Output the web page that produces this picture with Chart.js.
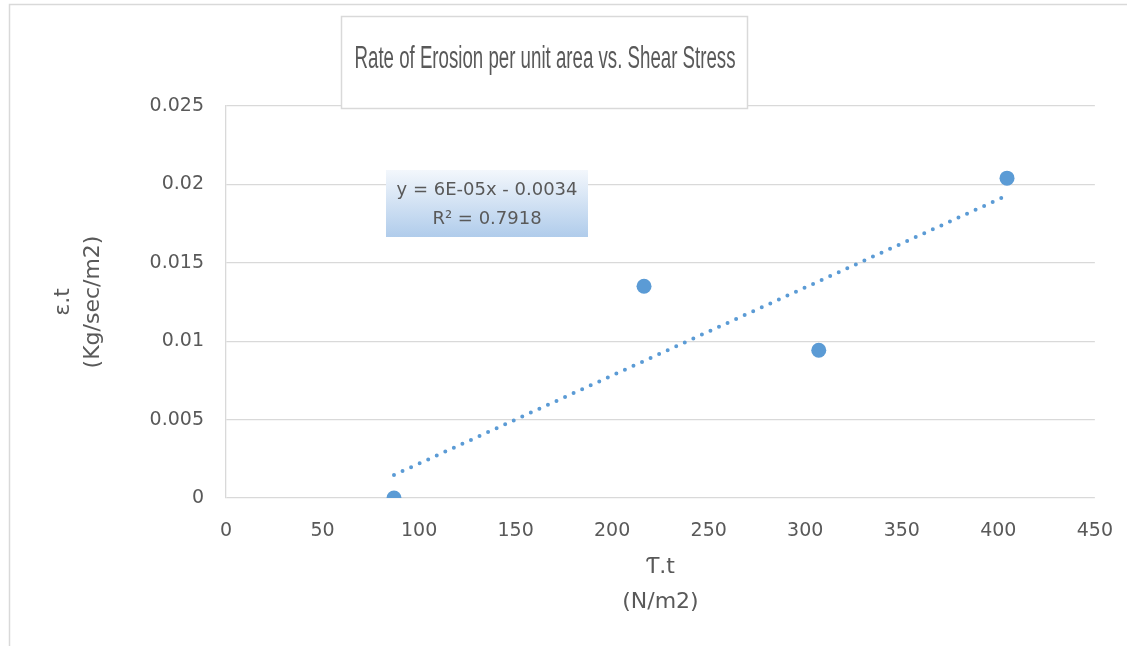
<!DOCTYPE html>
<html>
<head>
<meta charset="utf-8">
<title>Erosion rate</title>
<script src="https://cdn.jsdelivr.net/npm/chart.js"></script>
<style>
    body { margin: 0; background: #fff; }
    #wrap { width: 1127px; height: 646px; position: relative; }
</style>
</head>
<body>
<div id="wrap"><canvas id="chart" width="1127" height="646"></canvas></div>

<script>
// measured samples: shear stress (N/m2) vs erosion rate (Kg/sec/m2)
const shearStress = [87, 216.5, 307, 404.5];
const erosionRate = [0, 0.0135, 0.009423, 0.0204];

const xTicks = [0, 50, 100, 150, 200, 250, 300, 350, 400, 450];
const yTicks = [0, 0.005, 0.01, 0.015, 0.02, 0.025];

const chartTitle = 'Rate of Erosion per unit area vs. Shear Stress';
const xTitle = ['\u01AC.t', '(N/m2)'];
const yTitle = ['\u03B5.t', '(Kg/sec/m2)'];

const blue = '#5b9bd5';
const textGrey = '#595959';
const lineGrey = '#d9d9d9';
const font = '"DejaVu Sans", sans-serif';

// least squares fit, same as the spreadsheet trendline
function linearFit(xs, ys) {
    const n = xs.length;
    const mx = xs.reduce((a, b) => a + b, 0) / n;
    const my = ys.reduce((a, b) => a + b, 0) / n;
    let sxx = 0, sxy = 0, syy = 0;
    for (let i = 0; i < n; i++) {
        sxx += (xs[i] - mx) ** 2;
        sxy += (xs[i] - mx) * (ys[i] - my);
        syy += (ys[i] - my) ** 2;
    }
    const slope = sxy / sxx;
    return { slope, intercept: my - slope * mx, r2: (sxy * sxy) / (sxx * syy) };
}

const fit = linearFit(shearStress, erosionRate);
const xMin = Math.min(...shearStress), xMax = Math.max(...shearStress);
const trendPoints = [
    { x: xMin, y: fit.slope * xMin + fit.intercept },
    { x: xMax, y: fit.slope * xMax + fit.intercept }
];

function excelSci(v) {
    // 5.6e-5 -> 6E-05
    const [m, e] = v.toExponential(0).split('e');
    const exp = parseInt(e, 10);
    return m + 'E' + (exp < 0 ? '-' : '+') + String(Math.abs(exp)).padStart(2, '0');
}
const eqLine = 'y = ' + excelSci(fit.slope) + 'x ' + (fit.intercept < 0 ? '- ' : '+ ') + Math.abs(fit.intercept).toFixed(4);
const r2Line = 'R\u00B2 = ' + fit.r2.toFixed(4);

// frame, title box and equation label
const decorations = {
    id: 'decorations',
    afterDraw(chart) {
        const ctx = chart.ctx;
        ctx.save();
        ctx.strokeStyle = lineGrey;
        ctx.lineWidth = 1.5;
        ctx.beginPath();
        ctx.moveTo(1127, 4.5);
        ctx.lineTo(9.5, 4.5);
        ctx.lineTo(9.5, 646);
        ctx.stroke();

        // title box
        ctx.fillStyle = '#fff';
        ctx.fillRect(341, 16, 407, 93);
        ctx.strokeRect(341.5, 16.5, 406, 92);
        ctx.fillStyle = textGrey;
        ctx.textAlign = 'center';
        ctx.textBaseline = 'middle';
        ctx.font = '31px "Liberation Sans Narrow", "Liberation Sans", sans-serif';
        const w = ctx.measureText(chartTitle).width;
        ctx.save();
        ctx.translate(545, 59);
        ctx.scale(381 / w, 1);
        ctx.fillText(chartTitle, 0, 0);
        ctx.restore();

        // equation label
        const g = ctx.createLinearGradient(0, 170, 0, 237);
        g.addColorStop(0, '#f3f7fc');
        g.addColorStop(1, '#b0cceb');
        ctx.fillStyle = g;
        ctx.fillRect(386, 170, 202, 67);
        ctx.fillStyle = textGrey;
        ctx.font = '18px ' + font;
        ctx.fillText(eqLine, 487, 190);
        ctx.fillText(r2Line, 487, 219);
        ctx.restore();
    }
};

new Chart(document.getElementById('chart'), {
    type: 'scatter',
    data: {
        datasets: [
            {
                label: 'data',
                data: shearStress.map((x, i) => ({ x, y: erosionRate[i] })),
                backgroundColor: blue,
                borderColor: blue,
                pointRadius: 7.5,
                pointBorderWidth: 0
            },
            {
                label: 'trend',
                type: 'line',
                data: trendPoints,
                borderColor: blue,
                borderWidth: 4,
                borderDash: [0, 9.4],
                borderCapStyle: 'round',
                pointRadius: 0,
                fill: false
            }
        ]
    },
    options: {
        responsive: false,
        animation: false,
        events: [],
        layout: { padding: { left: 0, right: 30, top: 106, bottom: 0 } },
        plugins: { legend: { display: false }, tooltip: { enabled: false } },
        scales: {
            x: {
                type: 'linear',
                min: 0,
                max: 450,
                afterBuildTicks: s => { s.ticks = xTicks.map(v => ({ value: v })); },
                afterFit: s => { s.height = 148; },
                grid: { display: false },
                border: { display: false },
                ticks: { color: textGrey, font: { family: font, size: 19 }, padding: 14, maxRotation: 0 },
                title: {
                    display: true,
                    text: xTitle,
                    color: textGrey,
                    font: { family: font, size: 22, lineHeight: 35 / 22 },
                    padding: { top: 0, bottom: 26 }
                }
            },
            y: {
                type: 'linear',
                min: 0,
                max: 0.025,
                afterBuildTicks: s => { s.ticks = yTicks.map(v => ({ value: v })); },
                afterFit: s => { s.width = 226; },
                grid: { color: lineGrey, lineWidth: 1.3, drawTicks: false },
                border: { display: true, color: lineGrey, width: 1.3 },
                ticks: {
                    color: textGrey,
                    font: { family: font, size: 19 },
                    padding: 22,
                    callback: v => String(+v.toFixed(3))
                },
                title: {
                    display: true,
                    text: yTitle,
                    color: textGrey,
                    font: { family: font, size: 22, lineHeight: 30 / 22 },
                    padding: { top: 48, bottom: 0 }
                }
            }
        }
    },
    plugins: [decorations]
});
</script>
</body>
</html>
